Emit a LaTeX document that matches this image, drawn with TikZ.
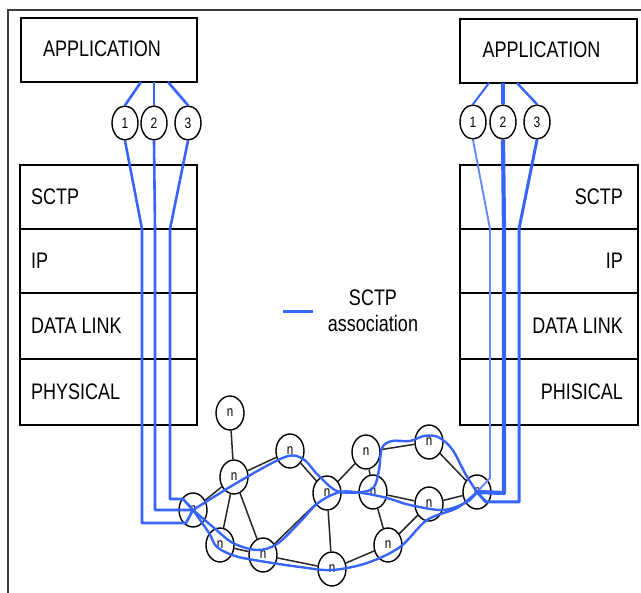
\documentclass[tikz,border=0pt]{standalone}
\usepackage{fontspec}
\setmainfont{Liberation Sans}[FakeStretch=0.8]
\usetikzlibrary{shapes.geometric}
\definecolor{assocblue}{RGB}{55,100,250}
\definecolor{lightassoc}{RGB}{100,135,255}
\definecolor{framegray}{RGB}{60,60,60}
\begin{document}
\begin{tikzpicture}[x=1pt,y=-1pt,
  box/.style={draw, line width=1.3pt, inner sep=0pt},
  lbl/.style={inner sep=0pt, font=\fontsize{22.5}{26}\selectfont},
  numc/.style={draw, ellipse, line width=1.4pt, minimum width=26pt, minimum height=34pt, inner sep=0pt, font=\fontsize{15}{17}\selectfont},
  netn/.style={draw, ellipse, line width=1.4pt, minimum width=28pt, minimum height=34pt, inner sep=0pt, font=\fontsize{14.5}{16}\selectfont},
  edge/.style={draw=black!85, line width=1.5pt},
  assoc/.style={draw=assocblue, line width=2.6pt, line join=round},
  net/.style={draw=assocblue, line width=2.4pt}]
\useasboundingbox (0,0) rectangle (641,593);
% frame
\draw[framegray, line width=2.2pt] (8,593) -- (8,10) -- (641,10);
% application boxes
\node[box, minimum width=176pt, minimum height=64pt] (appL) at (109,50) {};
\node[lbl] (appLt) at (102,49) {APPLICATION};
\node[box, minimum width=177pt, minimum height=64pt] (appR) at (548.5,51) {};
\node[lbl] (appRt) at (541.5,50) {APPLICATION};
% stacks
\foreach \nm/\yc/\h/\t [count=\i] in {S/197/64/SCTP, I/261/64/IP, D/326/66/DATA LINK, P/392/66/PHYSICAL}{
  \node[box, minimum width=177pt, minimum height=\h pt] (L\nm) at (108.5,\yc) {};
  \node[lbl, anchor=west] (L\nm t) at (31,\yc) {\t};
}
\foreach \nm/\yc/\h/\t [count=\i] in {S/197/64/SCTP, I/261/64/IP, D/326/66/DATA LINK, P/392/66/PHISICAL}{
  \node[box, minimum width=178pt, minimum height=\h pt] (R\nm) at (549,\yc) {};
  \node[lbl, anchor=east] (R\nm t) at (623,\yc) {\t};
}
% legend
\coordinate (lg1) at (283,312);
\coordinate (lg2) at (313,312);
\draw[assoc, line width=3pt] (lg1) -- (lg2);
\node[lbl] (lgt1) at (373,298) {SCTP};
\node[lbl] (lgt2) at (373,323) {association};
% numbered ellipses
\node[numc] (l1) at (125,123) {1};
\node[numc] (l2) at (154,123) {2};
\node[numc] (l3) at (188,123) {3};
\node[numc] (r1) at (473,122) {1};
\node[numc] (r2) at (503,122) {2};
\node[numc] (r3) at (537,122) {3};
% network nodes
\node[netn] (A) at (230,413) {n};
\node[netn] (B) at (234,477) {n};
\node[netn] (C) at (290,451) {n};
\node[netn] (L) at (193,510) {n};
\node[netn] (D) at (220,545) {n};
\node[netn] (E) at (263,555) {n};
\node[netn] (F) at (327,493) {n};
\node[netn] (G) at (332,569) {n};
\node[netn] (H) at (366,452) {n};
\node[netn] (I) at (373,492) {n};
\node[netn] (J) at (429,442) {n};
\node[netn] (K) at (429,504) {n};
\node[netn] (M) at (388,545) {n};
\node[netn] (R) at (477,492) {n};
% black links
\foreach \a/\b in {A/B, B/L, B/C, B/D, B/E, D/E, E/F, E/G, C/F, F/H, F/I, F/G, G/M, H/I, H/J, I/K, I/M, M/K, J/R, K/R}
  \draw[edge] (\a) -- (\b);
% left connections
\coordinate (aL1) at (141,82); \coordinate (aL2) at (154,82); \coordinate (aL3) at (168,82);
\draw[assoc] (aL1) -- (l1.north);
\draw[assoc] (aL2) -- (l2.north);
\draw[assoc] (aL3) -- (l3.north);
\coordinate (b1) at (142,229); \coordinate (c1) at (142,523); \coordinate (d1) at (186,523);
\coordinate (b2) at (155,229); \coordinate (c2) at (155,510);
\coordinate (b3) at (170,229); \coordinate (c3) at (170,499); \coordinate (d3) at (183,499);
\draw[assoc] (l1.south) -- (b1) -- (c1) -- (d1) -- (L.center);
\draw[assoc] (l2.south) -- (b2) -- (c2) -- (L.center);
\draw[assoc] (l3.south) -- (b3) -- (c3) -- (d3) -- (L.center);
% right connections
\coordinate (aR1) at (489,83); \coordinate (aR2) at (503,83); \coordinate (aR3) at (517,83);
\draw[assoc, line width=2pt] (aR1) -- (r1.north);
\draw[assoc, line width=4.5pt] (aR2) -- (r2.north);
\draw[assoc, line width=2.4pt] (aR3) -- (r3.north);
\coordinate (e1) at (490,229); \coordinate (f1) at (490,478);
\coordinate (e2) at (504,229); \coordinate (f2) at (504,493);
\coordinate (e3) at (519,229); \coordinate (f3) at (519,502); \coordinate (g3) at (486,502);
\draw[draw=lightassoc, line width=1.9pt] (r1.south) -- (e1) -- (f1) -- (R.center);
\draw[assoc, line width=4.2pt] (r2.south) -- (e2) -- (f2) -- (R.center);
\draw[assoc, line width=3pt] (r3.south) -- (e3) -- (f3) -- (g3) -- (R.center);
% associations through the network
\draw[net] plot[smooth, tension=0.55] coordinates {(L.center) (240,481) (285,457) (303,459) (318,475) (337,491) (362,492) (374,487) (379,470) (382,448) (392,441) (410,441) (424,436) (438,437) (452,449) (466,475) (R.center)};
\draw[net] plot[smooth, tension=0.55] coordinates {(L.center) (213,527) (233,543) (257,550) (277,544) (300,522) (318,503) (340,492) (362,493) (387,498) (410,505) (443,510) (467,502) (R.center)};
\draw[net] plot[smooth, tension=0.55] coordinates {(L.center) (209,533) (217,547) (235,556) (260,561) (300,567) (332,570) (367,563) (400,547) (427,520) (457,508) (R.center)};
\end{tikzpicture}
\end{document}
